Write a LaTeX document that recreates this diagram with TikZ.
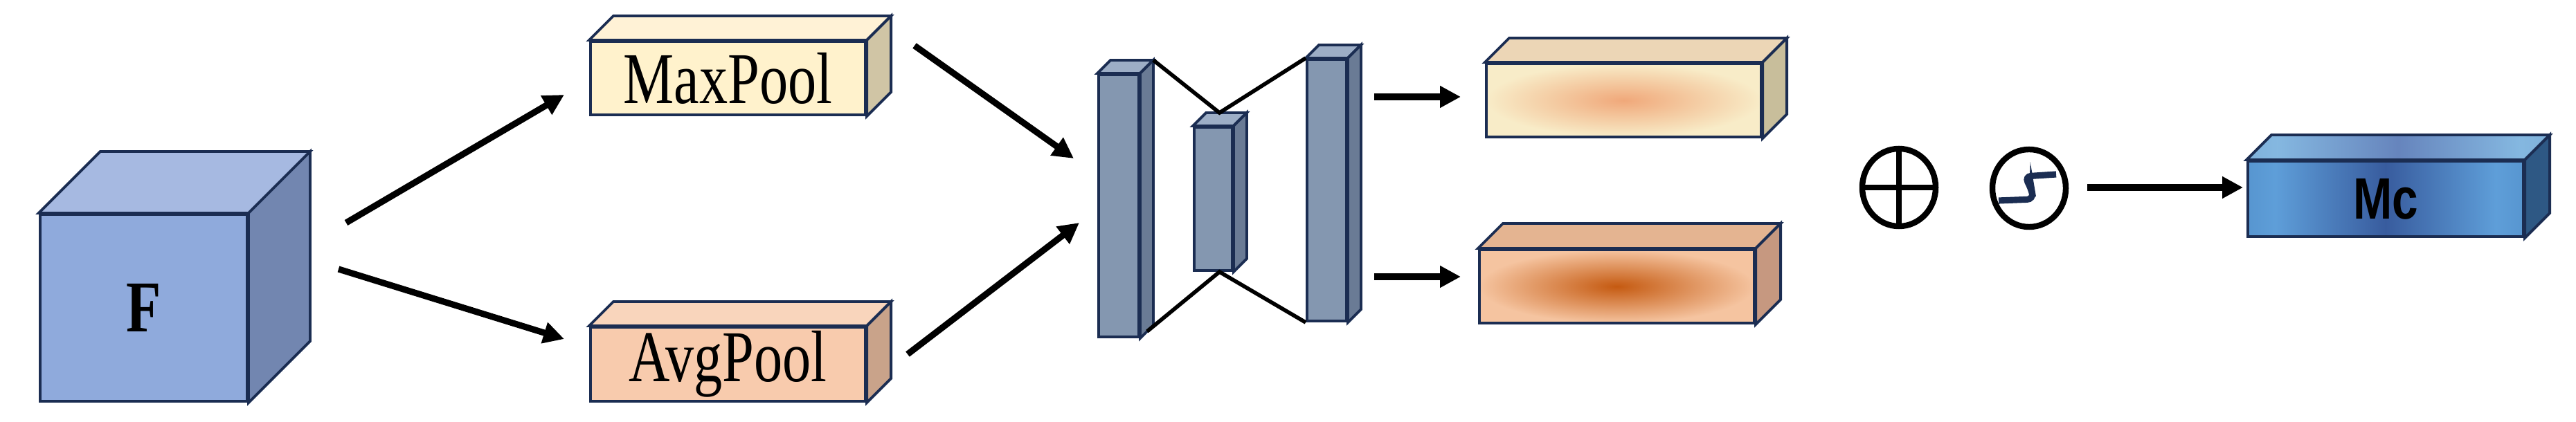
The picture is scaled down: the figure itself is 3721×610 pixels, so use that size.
\documentclass[tikz,border=0pt]{standalone}
\usepackage{fontspec}
\setmainfont{Liberation Serif}
\newfontfamily\sansbold{Liberation Sans}
\usetikzlibrary{arrows.meta,calc,shapes.geometric}
\definecolor{edge}{HTML}{1B2D52}
\definecolor{fF}{HTML}{8FAADC}\definecolor{tF}{HTML}{A6B9E1}\definecolor{sF}{HTML}{7286B0}
\definecolor{fM}{HTML}{FFF2CC}\definecolor{tM}{HTML}{FFF2D6}\definecolor{sM}{HTML}{D0C5A5}
\definecolor{fA}{HTML}{F8CBAD}\definecolor{tA}{HTML}{F9D5BC}\definecolor{sA}{HTML}{C9A38A}
\definecolor{fB}{HTML}{8497B0}\definecolor{tB}{HTML}{9DAEC6}\definecolor{sB}{HTML}{6A7B95}
\pgfdeclarehorizontalshading{mcshade}{100bp}{rgb(0bp)=(0.2,0.42,0.64); rgb(30bp)=(0.37,0.62,0.85); rgb(50bp)=(0.22,0.36,0.62); rgb(70bp)=(0.37,0.62,0.85); rgb(100bp)=(0.2,0.42,0.64)}
\pgfdeclarehorizontalshading{mctop}{100bp}{rgb(0bp)=(0.38,0.56,0.74); rgb(30bp)=(0.52,0.72,0.88); rgb(50bp)=(0.4,0.52,0.74); rgb(70bp)=(0.52,0.72,0.88); rgb(100bp)=(0.38,0.56,0.74)}
\tikzset{
  face/.style={draw=edge, line width=1.1pt, inner sep=0pt},
  arr/.style={line width=2.6pt, -{Triangle[length=0.3cm,width=0.3cm]}},
  link/.style={line width=1.6pt, black},
}
\newcommand{\faces}[4]{%
  \draw[face, fill=#3] (#1.north west) -- ++(#2,-#2) -- ($(#1.north east)+(#2,-#2)$) -- (#1.north east) -- cycle;
  \draw[face, fill=#4] (#1.north east) -- ++(#2,-#2) -- ($(#1.south east)+(#2,-#2)$) -- (#1.south east) -- cycle;}
\newcommand{\cond}[1]{\scalebox{0.78}[1]{#1}}
\begin{document}
\begin{tikzpicture}[x=0.01cm,y=-0.01cm]
\useasboundingbox (0,0) rectangle (3721,610);
% F cube
\node[face, fill=fF, minimum width=2.99cm, minimum height=2.70cm, font=\bfseries\fontsize{30}{30}\selectfont] (F) at (207.5,445) {\cond{F}};
\faces{F}{89}{tF}{sF}
% MaxPool / AvgPool
\node[face, fill=fM, minimum width=3.97cm, minimum height=1.06cm, font=\fontsize{30}{30}\selectfont] (mp) at (1051.5,113) {\cond{MaxPool}};
\faces{mp}{35}{tM}{sM}
\node[face, fill=fA, minimum width=3.97cm, minimum height=1.07cm, font=\fontsize{30}{30}\selectfont] (ap) at (1051.5,526.5) {\cond{AvgPool}};
\faces{ap}{35}{tA}{sA}
% arrows F -> pools
\coordinate (f1) at (500,322); \coordinate (m1) at (815,137);
\coordinate (f2) at (489,389); \coordinate (a1) at (815,490);
\draw[arr] (f1) -- (m1);
\draw[arr] (f2) -- (a1);
% arrows pools -> net
\coordinate (m2) at (1321,66); \coordinate (n1) at (1551,229);
\coordinate (a2) at (1311,512); \coordinate (n2) at (1559,322);
\draw[arr] (m2) -- (n1);
\draw[arr] (a2) -- (n2);
% bars
\node[face, fill=fB, minimum width=0.58cm, minimum height=3.79cm] (b1) at (1616,297.5) {};
\faces{b1}{19}{tB}{sB}
\node[face, fill=fB, minimum width=0.55cm, minimum height=2.07cm] (b2) at (1752.5,287.5) {};
\faces{b2}{19}{tB}{sB}
\node[face, fill=fB, minimum width=0.57cm, minimum height=3.78cm] (b3) at (1916.5,275) {};
\faces{b3}{19}{tB}{sB}
\draw[link] ($(b1.north east)+(19,-19)$) -- ($(b2.north)+(9,-19)$) -- (b3.north west);
\draw[link] ($(b1.south east)+(10,-10)$) -- ($(b2.south)+(9,0)$) -- (b3.south west);
% arrows to gradient boxes
\coordinate (o1) at (1985,140); \coordinate (u1) at (2110,140);
\coordinate (o2) at (1985,400); \coordinate (u2) at (2110,400);
\draw[arr] (o1) -- (u1);
\draw[arr] (o2) -- (u2);
\node[face, inner color={rgb,255:red,240;green,168;blue,122}, outer color={rgb,255:red,248;green,236;blue,200}, minimum width=3.97cm, minimum height=1.06cm] (g1) at (2345.5,145) {};
\faces{g1}{35}{{rgb,255:red,236;green,214;blue,182}}{{rgb,255:red,200;green,190;blue,155}}
\node[face, inner color={rgb,255:red,197;green,90;blue,17}, outer color={rgb,255:red,245;green,196;blue,160}, minimum width=3.97cm, minimum height=1.06cm] (g2) at (2335.5,414) {};
\faces{g2}{36}{{rgb,255:red,228;green,180;blue,145}}{{rgb,255:red,198;green,152;blue,128}}
% operators
\node[draw=black, line width=2.4pt, ellipse, minimum width=1.06cm, minimum height=1.12cm, inner sep=0pt] (plus) at (2743,271) {};
\draw[line width=2.4pt] (plus.north) -- (plus.south) (plus.west) -- (plus.east);
\node[draw=black, line width=2.4pt, ellipse, minimum width=1.06cm, minimum height=1.12cm, inner sep=0pt] (sig) at (2931,272) {};
\draw[edge, line width=2.6pt, rounded corners=2.5pt] ($(sig)+(39,-20)$) -- ($(sig)+(-6,-17)$) -- ($(sig)+(4,4)$) -- ($(sig)+(6,16)$) -- ($(sig)+(-44,18)$);
\coordinate (s1) at (3015,271); \coordinate (s2) at (3240,271);
\draw[arr] (s1) -- (s2);
% Mc
\node[face, shading=mcshade, minimum width=3.98cm, minimum height=1.09cm, font=\sansbold\bfseries\fontsize{24}{24}\selectfont] (mc) at (3446,287.5) {\scalebox{0.8}[1]{Mc}};
\draw[face, shading=mctop] (mc.north west) -- ++(36,-36) -- ($(mc.north east)+(36,-36)$) -- (mc.north east) -- cycle;
\draw[face, fill={rgb,255:red,46;green,88;blue,132}] (mc.north east) -- ++(36,-36) -- ($(mc.south east)+(36,-36)$) -- (mc.south east) -- cycle;
\end{tikzpicture}
\end{document}
